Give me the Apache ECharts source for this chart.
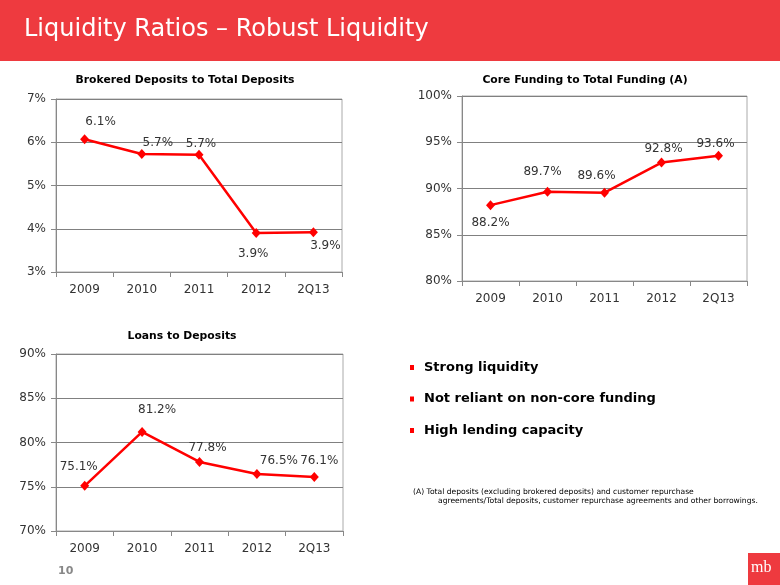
<!DOCTYPE html>
<html><head><meta charset="utf-8">
<script src="https://cdn.jsdelivr.net/npm/echarts@6/dist/echarts.min.js"></script>
<style>html,body{margin:0;padding:0;background:#fff;}#c{width:780px;height:585px;}</style>
</head><body><div id="c"></div>
<script>
const categories = ['2009', '2010', '2011', '2012', '2Q13'];
const brokeredDeposits = [6.07, 5.73, 5.71, 3.9, 3.92];
const coreFunding = [88.2, 89.65, 89.55, 92.8, 93.55];
const loansToDeposits = [75.1, 81.2, 77.8, 76.45, 76.1];
const brokeredLabels = ['6.1%', '5.7%', '5.7%', '3.9%', '3.9%'];
const coreLabels = ['88.2%', '89.7%', '89.6%', '92.8%', '93.6%'];
const loansLabels = ['75.1%', '81.2%', '77.8%', '76.5%', '76.1%'];
const bullets = ['Strong liquidity', 'Not reliant on non-core funding', 'High lending capacity'];

const FONT = 'DejaVu Sans, Verdana, sans-serif';
const RED = '#EE3A3F';

const brokeredPos = [['top', [16, -1]], ['top', [16, 5]], ['top', [2, 5]], ['bottom', [-3, 5]], ['bottom', [12, -2]]];
const corePos = [['bottom', [0, 2]], ['top', [-5, -4]], ['top', [-8, -1]], ['top', [2, 2]], ['top', [-3, 4]]];
const loansPos = [['top', [-6, -3]], ['top', [15, -6]], ['top', [8, 2]], ['top', [22, 3]], ['top', [5, 0]]];

function mkData(vals, labels, pos) {
  return vals.map((v, i) => ({
    value: v,
    label: { show: true, formatter: labels[i], position: pos[i][0], offset: pos[i][1] }
  }));
}

const grids = [
  { left: 56, top: 99, width: 286, height: 173 },
  { left: 462, top: 96, width: 285, height: 185 },
  { left: 56, top: 354, width: 287, height: 177 }
];
const yRanges = [[3, 7, 1], [80, 100, 5], [70, 90, 5]];

const titleStyle = { fontFamily: FONT, fontSize: 10.8, fontWeight: 'bold', color: '#000' };

const option = {
  animation: false,
  backgroundColor: '#fff',
  textStyle: { fontFamily: FONT },
  title: [
    { text: 'Brokered Deposits to Total Deposits', left: 185, top: 75, textAlign: 'center', padding: 0, textStyle: titleStyle },
    { text: 'Core Funding to Total Funding (A)', left: 585, top: 75, textAlign: 'center', padding: 0, textStyle: titleStyle },
    { text: 'Loans to Deposits', left: 182, top: 331, textAlign: 'center', padding: 0, textStyle: titleStyle }
  ],
  grid: grids.map(g => Object.assign({ show: true, borderColor: '#aaa', borderWidth: 1, backgroundColor: 'transparent' }, g)),
  xAxis: grids.map((g, i) => ({
    type: 'category', gridIndex: i, data: categories, boundaryGap: true,
    axisLine: { lineStyle: { color: '#888' } },
    axisTick: { show: true, length: 5, lineStyle: { color: '#888' } },
    axisLabel: { color: '#333', fontSize: 12, fontFamily: FONT, margin: 12 }
  })),
  yAxis: yRanges.map((r, i) => ({
    type: 'value', gridIndex: i, min: r[0], max: r[1], interval: r[2],
    axisLine: { show: true, lineStyle: { color: '#888' } },
    axisTick: { show: true, length: 5, lineStyle: { color: '#888' } },
    splitLine: { lineStyle: { color: '#808080' } },
    axisLabel: { color: '#333', fontSize: 12, fontFamily: FONT, margin: 10, formatter: '{value}%' }
  })),
  series: [
    [brokeredDeposits, brokeredLabels, brokeredPos],
    [coreFunding, coreLabels, corePos],
    [loansToDeposits, loansLabels, loansPos]
  ].map((s, i) => ({
    type: 'line', xAxisIndex: i, yAxisIndex: i,
    data: mkData(s[0], s[1], s[2]),
    symbol: 'diamond', symbolSize: [9, 10],
    lineStyle: { color: '#FF0000', width: 2.5 },
    itemStyle: { color: '#FF0000' },
    label: { color: '#333', fontSize: 12, fontFamily: FONT },
    z: 3
  })),
  graphic: [
    { type: 'rect', shape: { x: 0, y: 0, width: 780, height: 61 }, style: { fill: RED }, z: 10 },
    { type: 'text', left: 24, top: 18, style: { text: 'Liquidity Ratios \u2013 Robust Liquidity', fill: '#fff', font: '24px DejaVu Sans, Verdana, sans-serif' }, z: 11 },
    ...bullets.flatMap((b, i) => [
      { type: 'rect', shape: { x: 410, y: 365 + i * 31.5, width: 4, height: 5 }, style: { fill: '#FF0000' } },
      { type: 'text', left: 424, top: 361 + i * 31.5, style: { text: b, fill: '#000', font: 'bold 13px DejaVu Sans, Verdana, sans-serif' } }
    ]),
    { type: 'text', left: 413, top: 488, style: { text: '(A) Total deposits (excluding brokered deposits) and customer repurchase', fill: '#000', font: '7.6px DejaVu Sans, Verdana, sans-serif' } },
    { type: 'text', left: 438, top: 497.5, style: { text: 'agreements/Total deposits, customer repurchase agreements and other borrowings.', fill: '#000', font: '7.6px DejaVu Sans, Verdana, sans-serif' } },
    { type: 'text', left: 58, top: 566, style: { text: '10', fill: '#888', font: 'bold 11px DejaVu Sans, Verdana, sans-serif' } },
    { type: 'rect', shape: { x: 748, y: 553, width: 32, height: 32 }, style: { fill: RED } },
    { type: 'text', left: 751, top: 560, style: { text: 'mb', fill: '#fff', font: '16px Liberation Serif, serif' } }
  ]
};
echarts.init(document.getElementById('c')).setOption(option);
</script></body></html>
